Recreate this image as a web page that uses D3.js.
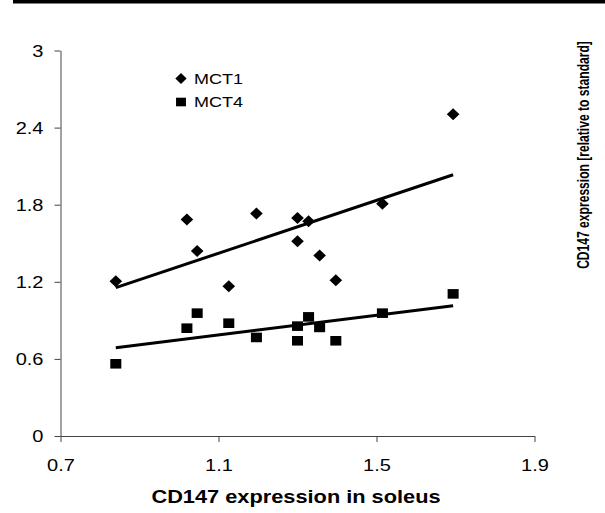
<!DOCTYPE html>
<html>
<head>
<meta charset="utf-8">
<script src="https://cdn.jsdelivr.net/npm/d3@7"></script>
<style>
  body { margin: 0; background: #fff; }
  text { font-family: "Liberation Sans", Arial, sans-serif; fill: #000; }
</style>
</head>
<body>
<div id="chart"></div>
<script>
// CD147 in soleus (x) against MCT1 / MCT4
const soleus = [0.84, 1.02, 1.046, 1.126, 1.196, 1.30, 1.30, 1.328, 1.356, 1.397, 1.515, 1.694];
const mct1 = [1.205, 1.684, 1.44, 1.166, 1.731, 1.697, 1.516, 1.671, 1.404, 1.212, 1.808, 2.503];
const mct4 = [0.562, 0.839, 0.956, 0.878, 0.767, 0.855, 0.741, 0.927, 0.845, 0.741, 0.956, 1.106];
const seriesNames = ["MCT1", "MCT4"];
const xTicks = [0.7, 1.1, 1.5, 1.9];
const xTickLabels = ["0.7", "1.1", "1.5", "1.9"];
const yTicks = [0, 0.6, 1.2, 1.8, 2.4, 3];
const yTickLabels = ["0", "0.6", "1.2", "1.8", "2.4", "3"];

const width = 605, height = 513;
const sx = 1.25; // picture is stretched sideways

const svg = d3.select("#chart").append("svg")
    .attr("width", width).attr("height", height);

// top rule
svg.append("rect").attr("x", 13).attr("y", 0).attr("width", width - 13).attr("height", 3.5).attr("fill", "#000");

const x = d3.scaleLinear().domain([0.7, 1.9]).range([60.5, 534.5]);
const y = d3.scaleLinear().domain([0, 3]).range([436, 50.5]);

// axes
const yAxis = svg.append("g").attr("transform", "translate(60.5,0)")
    .call(d3.axisLeft(y).tickValues(yTicks).tickSize(6).tickSizeOuter(0)
        .tickFormat((d, i) => yTickLabels[i]));
const xAxis = svg.append("g").attr("transform", "translate(0,436)")
    .call(d3.axisBottom(x).tickValues(xTicks).tickSize(6).tickSizeOuter(0)
        .tickFormat((d, i) => xTickLabels[i]));

[yAxis, xAxis].forEach(g => {
    g.select(".domain").attr("stroke", "#444");
    g.selectAll(".tick line").attr("stroke", "#444");
    g.selectAll("text").style("font-size", "16px").attr("fill", "#000");
});
yAxis.selectAll("text").attr("x", 0).attr("dy", "0.35em")
    .attr("transform", `translate(-17,0) scale(${sx},1)`);
xAxis.selectAll("text").attr("y", 0).attr("dy", "0")
    .attr("transform", `translate(0,35) scale(${sx},1)`);

// regression line through the points
function fit(xs, ys) {
    const mx = d3.mean(xs), my = d3.mean(ys);
    const b = d3.sum(xs, (v, i) => (v - mx) * (ys[i] - my)) / d3.sum(xs, v => (v - mx) ** 2);
    return v => my + b * (v - mx);
}

const series = [
    {name: seriesNames[0], vals: mct1, shape: "diamond"},
    {name: seriesNames[1], vals: mct4, shape: "square"}
];
const xExt = d3.extent(soleus);

series.forEach(s => {
    const f = fit(soleus, s.vals);
    svg.append("line")
        .attr("x1", x(xExt[0])).attr("y1", y(f(xExt[0])))
        .attr("x2", x(xExt[1])).attr("y2", y(f(xExt[1])))
        .attr("stroke", "#000").attr("stroke-width", 3);
});

function marker(g, shape) {
    if (shape === "diamond") {
        g.append("path").attr("d", d3.symbol(d3.symbolSquare, 72)())
            .attr("transform", "scale(1.05,1) rotate(45)").attr("fill", "#000");
    } else {
        g.append("path").attr("d", d3.symbol(d3.symbolSquare, 92)())
            .attr("transform", "scale(1.15,1)").attr("fill", "#000");
    }
}

series.forEach(s => {
    soleus.forEach((v, i) => {
        const g = svg.append("g").attr("transform", `translate(${x(v)},${y(s.vals[i])})`);
        marker(g, s.shape);
    });
});

// legend
series.forEach((s, i) => {
    const g = svg.append("g").attr("transform", `translate(181,${78.5 + i * 23.5})`);
    const m = g.append("g").attr("transform", "scale(0.9)");
    marker(m, s.shape);
    g.append("text").attr("x", 0).attr("dy", "0.35em")
        .attr("transform", `translate(13,0) scale(${sx * 0.96},1)`)
        .style("font-size", "15px").text(s.name);
});

// axis titles
svg.append("text")
    .attr("transform", `translate(296,503) scale(1.21,1)`)
    .attr("text-anchor", "middle")
    .style("font-size", "18px").style("font-weight", "bold")
    .text("CD147 expression in soleus");

// right title: squeeze along its length to fit ~228px
const rt = svg.append("text")
    .attr("text-anchor", "middle")
    .style("font-size", "16.5px").style("font-weight", "bold")
    .text("CD147 expression [relative to standard]");
const k = 228 / rt.node().getComputedTextLength();
rt.attr("transform", `translate(589,155) rotate(-90) scale(${k},1)`);
</script>
</body>
</html>
